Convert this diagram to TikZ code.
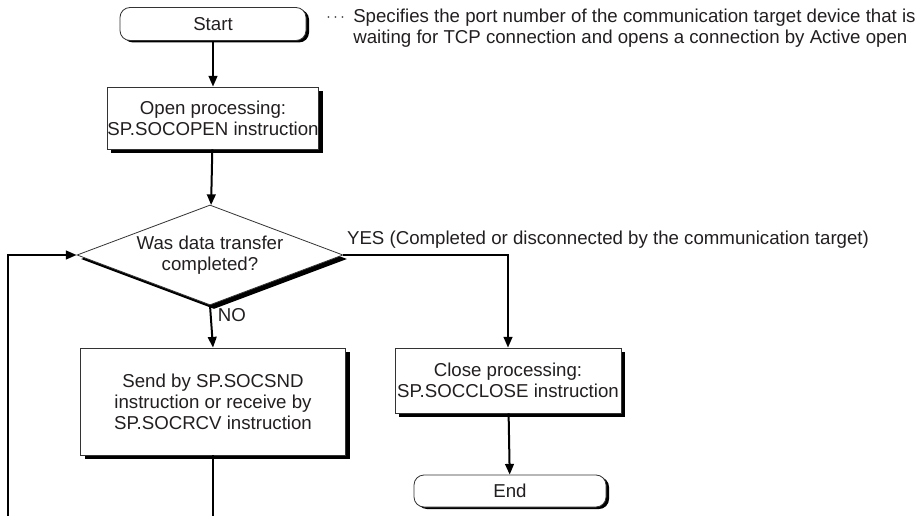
\documentclass[tikz,border=0pt]{standalone}
\usepackage{fontspec}
\setmainfont{Liberation Sans}
\usetikzlibrary{arrows.meta,shapes.geometric,shadows}
\definecolor{txt}{HTML}{231F20}
\begin{document}
\begin{tikzpicture}[x=0.75pt,y=-0.75pt,
  font=\fontsize{14}{15.75}\selectfont, text=txt,
  line/.style={draw=black, line width=1.5pt},
  arr/.style={line, -{Triangle[length=8pt,width=6.5pt]}},
  boxshadow/.style={drop shadow={shadow xshift=3pt, shadow yshift=-3pt, fill=black, opacity=1}},
  procbox/.style={rectangle, draw=black!80, line width=0.6pt, fill=white, align=center, inner sep=0pt, boxshadow},
  termbox/.style={rectangle, rounded corners=7.5pt, draw=black!80, line width=0.6pt, fill=white, align=center, inner sep=0pt,
     drop shadow={shadow xshift=2.25pt, shadow yshift=-1.5pt, fill=black, opacity=1}},
  decbox/.style={diamond, draw=black!80, line width=0.6pt, fill=white, align=center, inner sep=0pt,
     drop shadow={shadow xshift=3pt, shadow yshift=-3pt, fill=black, opacity=1}},
  lbl/.style={inner sep=0pt, align=left}
]
\useasboundingbox (0,0) rectangle (919,516);

\node[termbox, minimum width=139.5pt, minimum height=24.75pt] (start) at (213,24) {Start};
\node[procbox, minimum width=156pt, minimum height=46.5pt] (open) at (213,118) {Open processing:\\SP.SOCOPEN instruction};
\node[decbox, minimum width=199.5pt, minimum height=75pt, shape aspect=2.66] (dia) at (210,255) {Was data transfer\\completed?};
\node[procbox, minimum width=198.75pt, minimum height=80.25pt] (send) at (213,401.5) {Send by SP.SOCSND\\instruction or receive by\\SP.SOCRCV instruction};
\node[procbox, minimum width=169.5pt, minimum height=48.75pt] (close) at (508,380.5) {Close processing:\\SP.SOCCLOSE instruction};
\node[termbox, minimum width=144pt, minimum height=24pt] (end) at (510,491) {End};

\node[lbl, anchor=west] (dots) at (326,18) {\fontsize{12}{14}\selectfont $\cdots$};
\node[lbl, anchor=north west] (note) at (353,9) {Specifies the port number of the communication target device that is\\waiting for TCP connection and opens a connection by Active open};

\coordinate (b1) at (213,520);
\coordinate (b2) at (8,520);

\draw[arr] (start) -- (open);
\draw[arr] (open) -- (dia);
\draw[arr] (dia.south) -- node[lbl, anchor=north west, pos=0.05, xshift=5pt] (no) {NO} (send.north);
\draw[arr] (dia.east) -- node[lbl, anchor=south west, pos=0, yshift=4pt, xshift=2pt] (yes) {YES (Completed or disconnected by the communication target)} (close.north |- dia.east) -- (close.north);
\draw[arr] (close) -- (end);
\draw[line] (send.south) -- (b1);
\draw[arr] (b2) |- (dia.west);
\end{tikzpicture}
\end{document}
